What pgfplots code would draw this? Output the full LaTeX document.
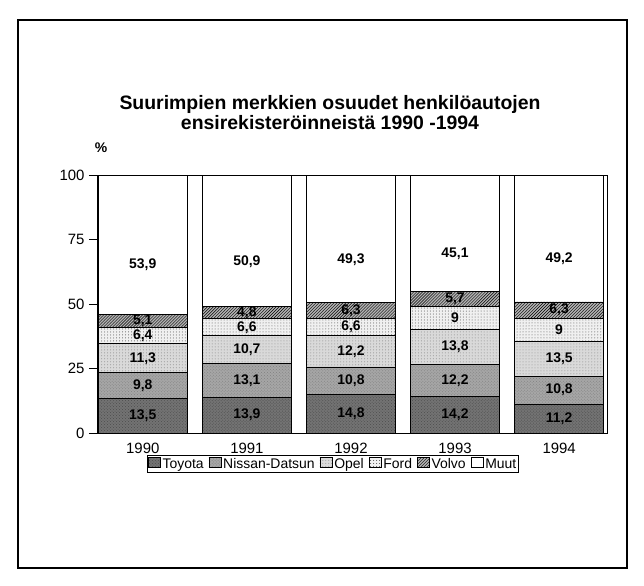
\documentclass[border=0pt]{standalone}
\usepackage{pgfplots}
\pgfplotsset{compat=1.18}
\usepackage{pgfplotstable}
\usetikzlibrary{patterns}
\usepackage{fontspec}
\setmainfont{Liberation Sans}

\pgfplotstableread{
x Toyota Nissan Opel Ford Volvo Muut
0 13.5 9.8 11.3 6.4 5.1 53.9
1 13.9 13.1 10.7 6.6 4.8 50.9
2 14.8 10.8 12.2 6.6 6.3 49.3
3 14.2 12.2 13.8 9 5.7 45.1
4 11.2 10.8 13.5 9 6.3 49.2
}\data

\pgfplotsset{
  lbl/.style={nodes near coords,
    every node near coord/.append style={anchor=center,
      font=\fontsize{14}{16}\selectfont\bfseries,
      shift={(axis direction cs:0,-#1)}}},
}

\begin{document}
\begin{tikzpicture}
\useasboundingbox (0bp,0bp) rectangle (644bp,586bp);
\draw[line width=1.2bp] (18bp,18bp) rectangle (627bp,566bp);
\node[font=\fontsize{19.5}{20}\selectfont\bfseries, align=center] at (330bp,473bp)
  {Suurimpien merkkien osuudet henkilöautojen\\ensirekisteröinneistä 1990 -1994};
\node[font=\fontsize{14}{16}\selectfont\bfseries] at (101bp,438bp) {\%};
\begin{axis}[
  at={(97bp,153bp)}, anchor=south west,
  width=510bp, height=258bp, scale only axis,
  ybar stacked, bar width=0.855,
  xmin=-0.44, xmax=4.46, ymin=0, ymax=100,
  xtick=data, xticklabels={1990,1991,1992,1993,1994},
  x tick style={draw=none},
  ytick={0,25,50,75,100},
  ytick pos=left, tick align=outside, major tick length=8bp,
  tick style={black, line width=0.8bp},
  axis line style={line width=0.9bp},
  /pgf/number format/assume math mode=true,
  /pgf/number format/use comma,
  tick label style={font=\fontsize{15}{17}\selectfont},
  xticklabel style={yshift=1bp},
  yticklabel style={xshift=-1bp},
  legend style={at={(0.463,-0.12)}, anchor=center, legend columns=-1,
    draw=black, line width=0.8bp, font=\fontsize{14}{15}\selectfont, inner sep=0.5bp,
    /tikz/every even column/.append style={column sep=3bp}},
  legend image code/.code={\draw[#1, draw=black, line width=0.6bp] (0bp,-3.5bp) rectangle (12bp,6.5bp);},
  every axis plot/.append style={draw=black, line width=0.8bp},
]
\addplot[fill=black!55, postaction={pattern=crosshatch dots, pattern color=black!70}, lbl=0] table[x=x,y=Toyota]{\data};
\addplot[fill=black!35, postaction={pattern=crosshatch dots, pattern color=black!50}, lbl=0] table[x=x,y=Nissan]{\data};
\addplot[fill=black!15, postaction={pattern=dots, pattern color=black!45}, lbl=0] table[x=x,y=Opel]{\data};
\addplot[fill=black!6, postaction={pattern=dots, pattern color=black!70}, lbl=0] table[x=x,y=Ford]{\data};
\addplot[fill=black!30, postaction={pattern=north east lines, pattern color=black}, lbl=0] table[x=x,y=Volvo]{\data};
\addplot[fill=white, lbl=8] table[x=x,y=Muut]{\data};
\legend{Toyota,Nissan-Datsun,Opel,Ford,Volvo,Muut}
\end{axis}
\end{tikzpicture}
\end{document}
